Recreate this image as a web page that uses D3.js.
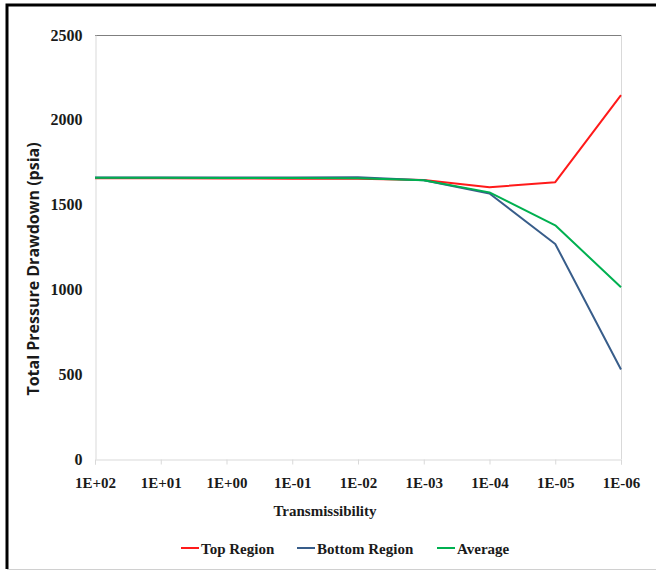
<!DOCTYPE html>
<html>
<head>
<meta charset="utf-8">
<script src="https://cdn.jsdelivr.net/npm/d3@7"></script>
<style>
  html, body { margin: 0; padding: 0; background: #fff; }
  svg { display: block; }
</style>
</head>
<body>
<svg id="chart" width="656" height="571"></svg>
<script>
// Transmissibility categories along the x axis
const categories = ["1E+02", "1E+01", "1E+00", "1E-01", "1E-02", "1E-03", "1E-04", "1E-05", "1E-06"];

// Total pressure drawdown (psia) per region
const topRegion    = [1655, 1655, 1654, 1653, 1652, 1645, 1602, 1632, 2146];
const bottomRegion = [1660, 1660, 1660, 1660, 1661, 1643, 1565, 1268, 528];
const average      = [1658, 1658, 1657, 1657, 1656, 1644, 1572, 1378, 1013];

const yTicks = [0, 500, 1000, 1500, 2000, 2500];

const seriesList = [
  { name: "Top Region",    values: topRegion,    color: "#ff1a1a" },
  { name: "Bottom Region", values: bottomRegion, color: "#385d8a" },
  { name: "Average",       values: average,      color: "#00b050" }
];

const svg = d3.select("#chart");
const serif = "'Liberation Serif', 'DejaVu Serif', serif";
const ink = "#1a1a1a";

// Frame around the figure
svg.append("path")
  .attr("d", "M7,569 V5 H656")
  .attr("fill", "none").attr("stroke", "#000").attr("stroke-width", 3);
svg.append("line")
  .attr("x1", 7).attr("x2", 656).attr("y1", 569.5).attr("y2", 569.5)
  .attr("stroke", "#d0d0d0").attr("stroke-width", 1);

const plot = { left: 95, right: 621, top: 35, bottom: 459 };

const x = d3.scalePoint().domain(categories).range([plot.left, plot.right]);
const y = d3.scaleLinear().domain([0, 2500]).range([plot.bottom, plot.top]);

// Plot frame: dark top edge, light sides
svg.append("line")
  .attr("x1", plot.left).attr("x2", plot.right)
  .attr("y1", y(2500) + 0.5).attr("y2", y(2500) + 0.5)
  .attr("stroke", "#7f7f7f").attr("stroke-width", 1);
svg.append("line")
  .attr("x1", plot.right + 0.5).attr("x2", plot.right + 0.5)
  .attr("y1", plot.top).attr("y2", plot.bottom)
  .attr("stroke", "#d9d9d9").attr("stroke-width", 1);

// Y axis
const yAxis = svg.append("g")
  .attr("transform", `translate(${plot.left + 0.5},0)`)
  .call(d3.axisLeft(y).tickValues(yTicks).tickFormat(d3.format("d")).tickSize(0).tickPadding(13));
yAxis.select(".domain").attr("stroke", "#d9d9d9");
yAxis.selectAll("text")
  .attr("font-family", serif).attr("font-weight", "bold")
  .attr("font-size", 16).attr("fill", ink);

// X axis
const xAxis = svg.append("g")
  .attr("transform", `translate(0,${plot.bottom + 0.5})`)
  .call(d3.axisBottom(x).tickSize(5).tickPadding(13));
xAxis.select(".domain").attr("stroke", "#d9d9d9");
xAxis.selectAll(".tick line").attr("stroke", "#d9d9d9");
xAxis.selectAll("text")
  .attr("font-family", serif).attr("font-weight", "bold")
  .attr("font-size", 15).attr("fill", ink);

// Series lines
const line = d3.line()
  .x((d, i) => x(categories[i]))
  .y(d => y(d));

svg.append("g").selectAll("path")
  .data(seriesList)
  .join("path")
  .attr("d", s => line(s.values))
  .attr("fill", "none")
  .attr("stroke", s => s.color)
  .attr("stroke-width", 2)
  .attr("stroke-linejoin", "round");

// Axis titles
svg.append("text")
  .attr("transform", "translate(39,269) rotate(-90)")
  .attr("text-anchor", "middle")
  .attr("font-family", "'Open Sans', 'DejaVu Sans', sans-serif")
  .attr("font-weight", "bold").attr("font-size", 16).attr("fill", ink)
  .text("Total Pressure Drawdown (psia)");

svg.append("text")
  .attr("x", 325).attr("y", 516)
  .attr("text-anchor", "middle")
  .attr("font-family", serif).attr("font-weight", "bold")
  .attr("font-size", 15).attr("fill", ink)
  .text("Transmissibility");

// Legend
const legendX = [181, 297, 437];
const legend = svg.append("g").selectAll("g")
  .data(seriesList)
  .join("g")
  .attr("transform", (d, i) => `translate(${legendX[i]},548)`);
legend.append("line")
  .attr("x1", 0).attr("x2", 18).attr("y1", 0).attr("y2", 0)
  .attr("stroke", d => d.color).attr("stroke-width", 2);
legend.append("text")
  .attr("x", 20).attr("y", 6)
  .attr("font-family", serif).attr("font-weight", "bold")
  .attr("font-size", 15).attr("fill", ink)
  .text(d => d.name);
</script>
</body>
</html>
